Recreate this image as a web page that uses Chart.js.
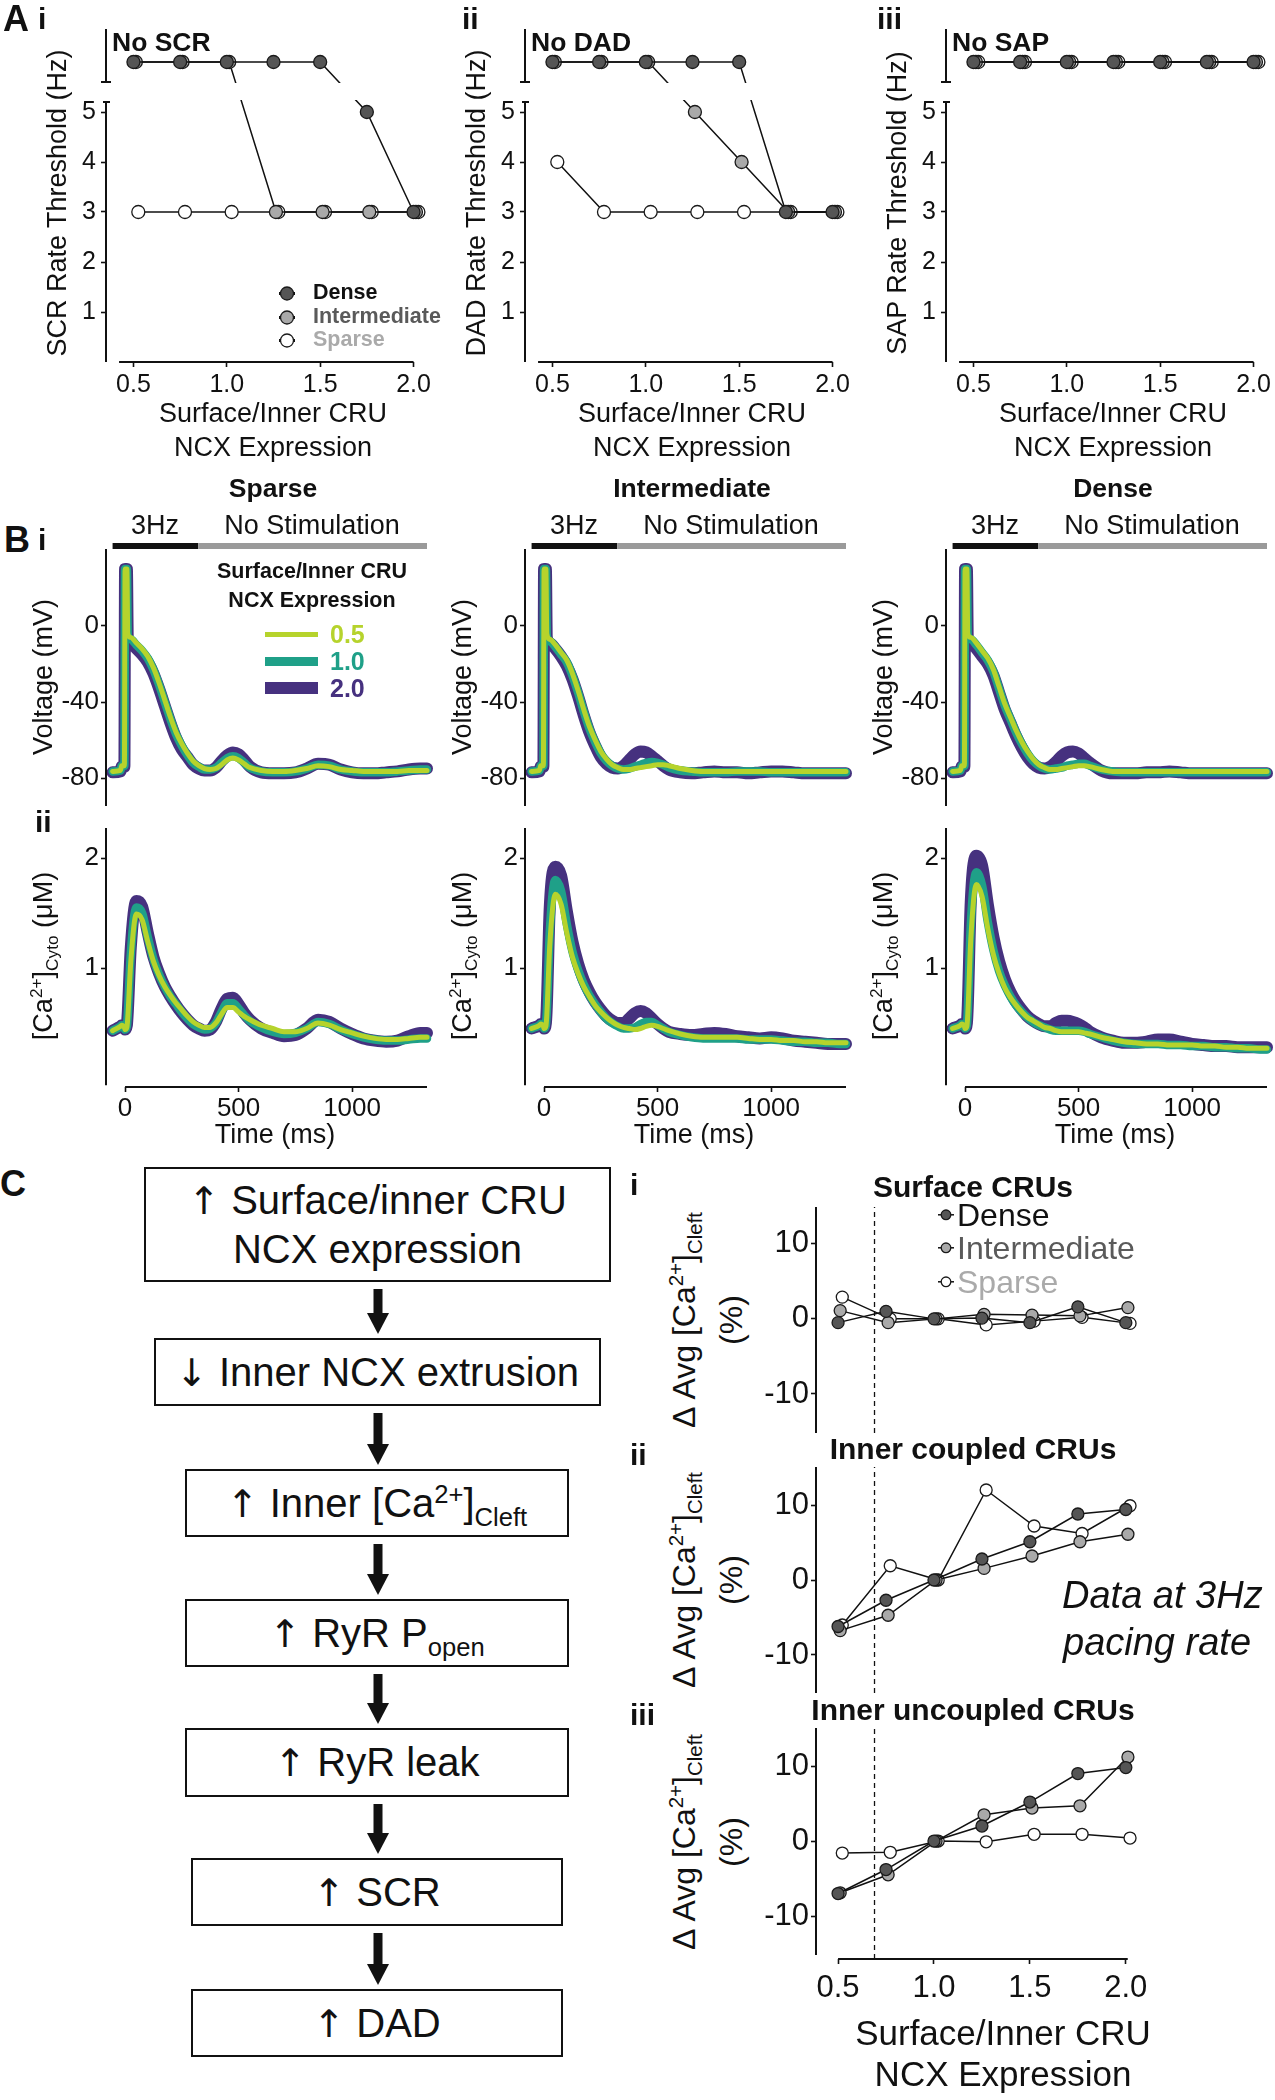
<!DOCTYPE html>
<html>
<head>
<meta charset="utf-8">
<title>Surface/Inner CRU NCX expression figure</title>
<script src="https://cdn.jsdelivr.net/npm/chart.js@4.4.1/dist/chart.umd.min.js"></script>
<style>
html, body { margin:0; padding:0; background:#fff; }
#page { position:relative; width:1275px; height:2100px; overflow:hidden; background:#fff;
  font-family:"Liberation Sans", Arial, Helvetica, sans-serif; color:#111; }
.t { position:absolute; white-space:nowrap; line-height:1; }
.t sup, .t sub, .box sup, .box sub { font-size:0.64em; line-height:0; }
canvas { position:absolute; }
.box { position:absolute; box-sizing:border-box; border:2.5px solid #111; display:flex; flex-direction:column;
  align-items:center; justify-content:center; font-size:40px; line-height:48px; white-space:nowrap; color:#111; text-align:center; }
.box > div { text-align:center; }
.ar { font-family:"DejaVu Sans", sans-serif; font-weight:normal; color:#111; font-size:0.95em; }
</style>
</head>
<body>
<div id="page"></div>
<script>
// ---------------- DATA ----------------
const ncxExpression = [0.5, 0.75, 1.0, 1.25, 1.5, 1.75, 2.0];
const ncxTicks = [0.5, 1.0, 1.5, 2.0];
const rateTicks = [1, 2, 3, 4, 5];
const NO_EVENT = 6;            // level used for "No SCR / No DAD / No SAP"

// A i  SCR rate threshold (Hz)
const scrDense        = [NO_EVENT, NO_EVENT, NO_EVENT, NO_EVENT, NO_EVENT, 5, 3];
const scrIntermediate = [NO_EVENT, NO_EVENT, NO_EVENT, 3, 3, 3, 3];
const scrSparse       = [3, 3, 3, 3, 3, 3, 3];
// A ii  DAD rate threshold (Hz)
const dadDense        = [NO_EVENT, NO_EVENT, NO_EVENT, NO_EVENT, NO_EVENT, 3, 3];
const dadIntermediate = [NO_EVENT, NO_EVENT, NO_EVENT, 5, 4, 3, 3];
const dadSparse       = [4, 3, 3, 3, 3, 3, 3];
// A iii  SAP rate threshold (Hz)
const sapDense        = [NO_EVENT, NO_EVENT, NO_EVENT, NO_EVENT, NO_EVENT, NO_EVENT, NO_EVENT];
const sapIntermediate = [NO_EVENT, NO_EVENT, NO_EVENT, NO_EVENT, NO_EVENT, NO_EVENT, NO_EVENT];
const sapSparse       = [NO_EVENT, NO_EVENT, NO_EVENT, NO_EVENT, NO_EVENT, NO_EVENT, NO_EVENT];

// B  time courses
const timeTicks = [0, 500, 1000];
const voltTicks = [-80, -40, 0];
const caTicks = [1, 2];
const stimStartMs = -55, stimEndMs = 322, recordEndMs = 1330;
const timeMs = [-55,-20,-15,-3,0,8,12,25,50,75,100,125,150,175,200,225,250,275,300,325,350,375,400,425,450,475,500,525,550,600,650,700,750,800,850,900,950,1000,1050,1100,1150,1200,1250,1300,1330];

const voltSparse05 = [-76.5,-76,-73.5,-73.5,30,30,-4,-6,-9,-12,-16,-22,-30,-39,-48,-56,-62,-67,-71,-73.5,-75,-75.5,-75,-73,-70.5,-69.5,-70.5,-72.5,-74.5,-76,-76.5,-76.5,-76,-75,-73.5,-74,-75.5,-76,-76.5,-76.5,-76.5,-76.5,-76,-76,-76];
const voltSparse10 = [-76.5,-76,-73.5,-73.5,30,30,-5,-7,-10,-13,-17,-23,-31,-40,-49,-57,-63,-68,-72,-74,-75.5,-75.5,-74.5,-72,-69.5,-68.5,-69.5,-72,-74.5,-76.5,-77,-77,-76.5,-75,-73,-73.5,-75.5,-76.5,-77,-77,-77,-76.5,-76,-75.5,-75.5];
const voltSparse20 = [-77,-76.5,-74,-74,30,30,-6,-9,-12,-15,-19,-25,-33,-42,-51,-59,-65,-69,-73,-75,-76,-76,-74.5,-71,-68,-66.5,-67.5,-70.5,-74,-77,-77.5,-77.5,-77,-75,-72.5,-73,-75.5,-77,-77.5,-77.5,-77,-76.5,-75.5,-75,-75];
const voltInter05 = [-76.5,-76,-73.5,-73.5,30,30,-4,-7,-10,-14,-18,-25,-34,-44,-53,-60,-66,-70,-73,-74.5,-75.5,-75.5,-75,-74.5,-74,-73.5,-73,-73,-73.5,-75,-76,-76.5,-76.5,-76.5,-76.5,-76.5,-76.5,-76.5,-76.5,-76.5,-76.5,-76.5,-76.5,-76.5,-76.5];
const voltInter10 = [-76.5,-76,-73.5,-73.5,30,30,-5,-8,-11,-15,-19,-26,-35,-45,-54,-61,-67,-71,-73.5,-75,-75.5,-75,-74,-73,-72,-71.5,-72,-73,-74.5,-76,-76.5,-77,-77,-77,-76.5,-76.5,-76.5,-77,-77,-77,-77,-77,-77,-77,-77];
const voltInter20 = [-77,-76.5,-74,-74,30,30,-6,-9,-12,-16,-21,-28,-37,-47,-56,-63,-69,-72.5,-74.5,-75,-73.5,-70.5,-67.5,-66,-66.5,-68.5,-71,-73.5,-75.5,-77,-77.5,-77,-76.5,-77,-77,-77.5,-77,-76.5,-76.5,-77,-77.5,-77.5,-77.5,-77.5,-77.5];
const voltDense05 = [-76.5,-76,-73.5,-73.5,30,30,-4,-6,-9,-13,-17,-23,-32,-41,-48,-55,-61,-66,-70,-73,-74.5,-75.5,-75.5,-75,-74.5,-74,-73.5,-73.5,-74,-75.5,-76.5,-76.5,-76.5,-76.5,-76.5,-76.5,-76.5,-76.5,-76.5,-76.5,-76.5,-76.5,-76.5,-76.5,-76.5];
const voltDense10 = [-76.5,-76,-73.5,-73.5,30,30,-5,-7,-10,-14,-18,-24,-33,-42,-49,-56,-62,-67,-71,-73.5,-75,-75.5,-75,-74.5,-73.5,-73,-72.5,-72.5,-73.5,-75.5,-76.5,-77,-77,-77,-77,-77,-77,-77,-77,-77,-77,-77,-77,-77,-77];
const voltDense20 = [-77,-76.5,-74,-74,30,30,-6,-9,-12,-16,-20,-26,-35,-44,-51,-58,-64,-69,-72.5,-74.5,-75,-74,-71.5,-68.5,-66.5,-66,-67,-69.5,-72,-76,-77.5,-77.5,-77.5,-77,-77,-76.5,-77,-77.5,-77.5,-77.5,-77.5,-77.5,-77.5,-77.5,-77.5];

const caSparse05 = [0.43,0.47,0.48,0.46,0.44,0.46,0.55,1.05,1.49,1.44,1.24,1.06,0.93,0.83,0.75,0.68,0.62,0.56,0.51,0.48,0.46,0.46,0.5,0.58,0.64,0.64,0.6,0.56,0.53,0.48,0.45,0.42,0.42,0.45,0.5,0.48,0.44,0.41,0.38,0.36,0.35,0.35,0.36,0.37,0.37];
const caSparse10 = [0.43,0.47,0.48,0.46,0.44,0.47,0.58,1.12,1.55,1.5,1.28,1.08,0.94,0.83,0.74,0.67,0.6,0.54,0.49,0.46,0.44,0.45,0.5,0.6,0.68,0.68,0.63,0.57,0.52,0.46,0.42,0.4,0.41,0.45,0.51,0.49,0.44,0.4,0.37,0.35,0.34,0.34,0.35,0.36,0.36];
const caSparse20 = [0.43,0.47,0.48,0.46,0.44,0.48,0.6,1.18,1.61,1.56,1.32,1.1,0.95,0.83,0.74,0.66,0.59,0.53,0.48,0.45,0.43,0.44,0.51,0.63,0.72,0.73,0.67,0.59,0.53,0.45,0.41,0.38,0.39,0.45,0.53,0.51,0.45,0.4,0.36,0.34,0.33,0.34,0.38,0.41,0.41];
const caInter05 = [0.45,0.48,0.49,0.47,0.45,0.47,0.57,1.2,1.67,1.58,1.32,1.1,0.95,0.83,0.74,0.66,0.6,0.55,0.51,0.48,0.46,0.45,0.44,0.45,0.47,0.48,0.47,0.45,0.43,0.4,0.38,0.37,0.37,0.37,0.37,0.36,0.35,0.35,0.34,0.34,0.33,0.33,0.32,0.32,0.32];
const caInter10 = [0.45,0.48,0.49,0.47,0.45,0.48,0.6,1.32,1.8,1.7,1.4,1.15,0.98,0.85,0.75,0.67,0.6,0.54,0.5,0.47,0.45,0.45,0.46,0.49,0.51,0.51,0.48,0.45,0.42,0.39,0.37,0.36,0.36,0.36,0.36,0.35,0.35,0.35,0.34,0.33,0.33,0.32,0.32,0.31,0.31];
const caInter20 = [0.45,0.48,0.49,0.47,0.45,0.5,0.65,1.55,1.92,1.84,1.52,1.24,1.04,0.89,0.78,0.69,0.62,0.56,0.52,0.5,0.5,0.54,0.59,0.61,0.59,0.54,0.49,0.45,0.42,0.4,0.39,0.4,0.41,0.4,0.38,0.37,0.36,0.37,0.36,0.34,0.33,0.32,0.31,0.31,0.31];
const caDense05 = [0.45,0.48,0.49,0.47,0.45,0.47,0.58,1.25,1.76,1.65,1.36,1.12,0.95,0.82,0.73,0.66,0.6,0.55,0.52,0.49,0.46,0.45,0.43,0.42,0.42,0.42,0.42,0.41,0.4,0.37,0.35,0.33,0.32,0.31,0.31,0.3,0.3,0.3,0.29,0.29,0.28,0.28,0.27,0.27,0.27];
const caDense10 = [0.45,0.48,0.49,0.47,0.45,0.48,0.61,1.38,1.87,1.75,1.42,1.16,0.97,0.84,0.74,0.66,0.6,0.55,0.51,0.48,0.46,0.44,0.43,0.43,0.43,0.43,0.43,0.42,0.4,0.37,0.34,0.32,0.31,0.31,0.31,0.3,0.3,0.29,0.29,0.28,0.28,0.27,0.27,0.26,0.26];
const caDense20 = [0.45,0.48,0.49,0.47,0.45,0.5,0.66,1.6,2.02,1.93,1.58,1.28,1.06,0.9,0.78,0.69,0.62,0.56,0.52,0.49,0.47,0.47,0.5,0.52,0.52,0.51,0.49,0.46,0.42,0.37,0.34,0.32,0.32,0.33,0.35,0.35,0.33,0.31,0.3,0.29,0.29,0.28,0.28,0.28,0.28];

// C  change in average cleft Ca (%), data at 3 Hz
const deltaTicks = [-10, 0, 10];
const uniformNcx = 0.69;       // dashed reference line
const surfDense        = [-0.5, 1.0, 0.0, 0.1, -0.5, 1.6, -0.5];
const surfIntermediate = [1.1, -0.5, 0.0, 0.6, 0.5, 0.4, 1.5];
const surfSparse       = [2.9, 0.0, 0.0, -0.8, -0.3, 0.2, -0.6];
const coupDense        = [-6.2, -2.7, 0.0, 2.8, 5.1, 8.8, 9.4];
const coupIntermediate = [-6.75, -4.7, 0.0, 1.55, 3.2, 5.1, 6.1];
const coupSparse       = [-6.0, 1.9, 0.0, 12.0, 7.2, 6.2, 9.9];
const uncDense         = [-7.0, -3.8, 0.0, 2.0, 5.2, 9.0, 9.8];
const uncIntermediate  = [-6.9, -4.5, 0.0, 3.5, 4.4, 4.7, 11.2];
const uncSparse        = [-1.6, -1.5, 0.0, -0.1, 0.9, 0.9, 0.4];

// ---------------- STYLE ----------------
const FONT = '"Liberation Sans", Arial, sans-serif';
const INK = '#111111';
const COL05 = '#b6d32c', COL10 = '#1fa088', COL20 = '#46317f';
const FILL_DENSE = '#555555', FILL_INTER = '#a9a9a9', FILL_SPARSE = '#ffffff';

const page = document.getElementById('page');

function txt(html, x, y, o = {}) {
  const d = document.createElement('div');
  d.className = 't';
  d.innerHTML = html;
  d.style.fontSize = (o.size || 26) + 'px';
  if (o.bold) d.style.fontWeight = 'bold';
  if (o.italic) d.style.fontStyle = 'italic';
  if (o.color) d.style.color = o.color;
  d.style.left = x + 'px';
  d.style.top = y + 'px';
  const ax = o.align === 'left' ? '0' : (o.align === 'right' ? '-100%' : '-50%');
  d.style.transform = 'translate(' + ax + ',-50%)' + (o.rot ? ' rotate(-90deg)' : '');
  page.appendChild(d);
  return d;
}

const axisDecor = {
  id: 'axisDecor',
  afterDatasetsDraw(chart, args, opts) {
    if (!opts || !opts.gap) return;
    const {ctx, chartArea, scales} = chart;
    const yA = scales.y.getPixelForValue(opts.gap[1]);
    const yB = scales.y.getPixelForValue(opts.gap[0]);
    ctx.save();
    ctx.fillStyle = '#ffffff';
    ctx.fillRect(chartArea.left + 2, yA, chartArea.right - chartArea.left + 30, yB - yA);
    ctx.restore();
  },
  afterDraw(chart, args, opts) {
    if (!opts) return;
    const {ctx, chartArea, scales} = chart;
    ctx.save();
    ctx.strokeStyle = INK;
    ctx.lineWidth = 2;
    const xl = chartArea.left;
    (opts.ySegs || []).forEach(([a, b]) => {
      ctx.beginPath();
      ctx.moveTo(xl, scales.y.getPixelForValue(a));
      ctx.lineTo(xl, scales.y.getPixelForValue(b));
      ctx.stroke();
    });
    if (opts.xSeg) {
      const yb = chartArea.bottom;
      ctx.beginPath();
      ctx.moveTo(scales.x.getPixelForValue(opts.xSeg[0]), yb);
      ctx.lineTo(scales.x.getPixelForValue(opts.xSeg[1]), yb);
      ctx.stroke();
    }
    (opts.caps || []).forEach(([v, l, r]) => {
      const y = scales.y.getPixelForValue(v);
      ctx.beginPath();
      ctx.moveTo(xl - l, y);
      ctx.lineTo(xl + r, y);
      ctx.stroke();
    });
    (opts.bars || []).forEach(b => {
      const x0 = scales.x.getPixelForValue(b.from), x1 = scales.x.getPixelForValue(b.to);
      ctx.fillStyle = b.color;
      ctx.fillRect(x0, chartArea.top + b.dy - b.h / 2, x1 - x0, b.h);
    });
    ctx.restore();
  }
};
Chart.register(axisDecor);

function makeChart(c) {
  const padTop = c.padTop ?? 32, padRight = c.padRight ?? 32, padBottom = c.padBottom ?? 30;
  const cLeft = c.left - c.yw, cTop = c.top - padTop;
  const W = Math.round(c.right + padRight - cLeft);
  const H = Math.round(c.bottom + (c.showX ? c.xh : padBottom) - cTop);
  const cv = document.createElement('canvas');
  cv.width = W; cv.height = H;
  Object.assign(cv.style, {left: cLeft + 'px', top: cTop + 'px', width: W + 'px', height: H + 'px'});
  page.appendChild(cv);
  const grid = {display: true, drawOnChartArea: false, drawTicks: true, tickLength: 5, tickColor: INK, tickWidth: 1.6};
  const xScale = {
    type: 'linear', min: c.xmin, max: c.xmax, display: !!c.showX,
    grid: grid, border: {display: false},
    afterBuildTicks: s => { s.ticks = c.xTicks.map(v => ({value: v})); },
    ticks: {autoSkip: false, maxRotation: 0, minRotation: 0, padding: c.xPad ?? 3, color: INK,
      font: {family: FONT, size: c.xFont || 25}, callback: c.xFmt || (v => String(v))}
  };
  if (c.showX) xScale.afterFit = s => { s.height = c.xh; };
  return new Chart(cv, {
    type: 'line',
    data: {datasets: c.datasets},
    options: {
      responsive: false, animation: false, devicePixelRatio: 1, events: [],
      layout: {padding: {left: 0, top: padTop, right: padRight, bottom: c.showX ? 0 : padBottom}},
      plugins: {legend: {display: false}, tooltip: {enabled: false}, axisDecor: c.decor},
      scales: {
        x: xScale,
        y: {
          type: 'linear', min: c.ymin, max: c.ymax,
          grid: grid, border: {display: false},
          afterFit: s => { s.width = c.yw; },
          afterBuildTicks: s => { s.ticks = c.yTicks.map(v => ({value: v})); },
          ticks: {autoSkip: false, padding: c.yPad ?? 4, color: INK,
            font: {family: FONT, size: c.yFont || 25}, callback: v => String(v)}
        }
      }
    }
  });
}

function markDs(ys, fill, dodge, r) {
  return {
    data: ncxExpression.map((x, i) => ({x: x + dodge, y: ys[i]})),
    showLine: true, borderColor: INK, borderWidth: 1.5, tension: 0, fill: false, clip: false,
    pointRadius: r, pointBackgroundColor: fill, pointBorderColor: '#1a1a1a', pointBorderWidth: 1.3
  };
}
function traceDs(ys, color, width) {
  return {
    data: timeMs.map((t, i) => ({x: t, y: ys[i]})),
    borderColor: color, backgroundColor: color, borderWidth: width, pointRadius: 0,
    cubicInterpolationMode: 'monotone', borderJoinStyle: 'round', borderCapStyle: 'round',
    fill: false, clip: false
  };
}
const fmt1 = v => v.toFixed(1);

// ---------------- PANEL A ----------------
const A_X0 = [106, 525, 946];
const aSets = [
  {d: scrDense, m: scrIntermediate, s: scrSparse, no: 'No SCR', yt: 'SCR Rate Threshold (Hz)'},
  {d: dadDense, m: dadIntermediate, s: dadSparse, no: 'No DAD', yt: 'DAD Rate Threshold (Hz)'},
  {d: sapDense, m: sapIntermediate, s: sapSparse, no: 'No SAP', yt: 'SAP Rate Threshold (Hz)'}
];
aSets.forEach((p, k) => {
  const X0 = A_X0[k];
  makeChart({
    left: X0, right: X0 + 315, top: 25, bottom: 362, yw: 60, xh: 45, showX: true,
    xmin: 0.353, xmax: 2.04, ymin: 0, ymax: 6.74,
    xTicks: ncxTicks, yTicks: rateTicks, xFmt: fmt1, xPad: 3, yPad: 5, xFont: 25, yFont: 25,
    datasets: [markDs(p.d, FILL_DENSE, 0, 6.5), markDs(p.m, FILL_INTER, 0.013, 6.5), markDs(p.s, FILL_SPARSE, 0.026, 6.5)],
    decor: {ySegs: [[0, 5.2], [5.6, 6.66]], caps: [[5.6, 5, 5], [5.2, 3, 4]], gap: [5.24, 5.58], xSeg: [0.423, 2.0]}
  });
  txt(p.no, X0 + 6, 42, {size: 26.5, bold: true, align: 'left'});
  txt(p.yt, X0 - 49, 203, {size: 27, rot: true});
  txt('Surface/Inner CRU', X0 + 167, 413, {size: 27});
  txt('NCX Expression', X0 + 167, 447, {size: 27});
});
txt('A', 3, 19, {size: 36, bold: true, align: 'left'});
txt('i', 38, 19, {size: 30, bold: true, align: 'left'});
txt('ii', 462, 19, {size: 30, bold: true, align: 'left'});
txt('iii', 877, 19, {size: 30, bold: true, align: 'left'});

// A i legend
function legendMarker(cx, cy, fill, r, lineHalf, lw) {
  const s = document.createElementNS('http://www.w3.org/2000/svg', 'svg');
  const w = 2 * Math.max(r + 2, lineHalf + 1);
  s.setAttribute('width', w); s.setAttribute('height', 2 * r + 4);
  s.style.position = 'absolute'; s.style.left = (cx - w / 2) + 'px'; s.style.top = (cy - r - 2) + 'px';
  s.innerHTML = '<line x1="' + (w / 2 - lineHalf) + '" y1="' + (r + 2) + '" x2="' + (w / 2 + lineHalf) + '" y2="' + (r + 2) +
    '" stroke="#111" stroke-width="' + lw + '"/><circle cx="' + (w / 2) + '" cy="' + (r + 2) + '" r="' + r +
    '" fill="' + fill + '" stroke="#1a1a1a" stroke-width="1.3"/>';
  page.appendChild(s);
}
[['Dense', FILL_DENSE, '#111', 293], ['Intermediate', FILL_INTER, '#5a5a5a', 317], ['Sparse', FILL_SPARSE, '#aaaaaa', 340]].forEach(([name, fill, col, y]) => {
  legendMarker(287, y, fill, 6.5, 8, 3);
  txt(name, 313, y, {size: 21.5, bold: true, color: col, align: 'left'});
});

// ---------------- PANEL B ----------------
const B_X0 = [106, 525, 946];
const bSets = [
  {title: 'Sparse', v: [voltSparse05, voltSparse10, voltSparse20], c: [caSparse05, caSparse10, caSparse20]},
  {title: 'Intermediate', v: [voltInter05, voltInter10, voltInter20], c: [caInter05, caInter10, caInter20]},
  {title: 'Dense', v: [voltDense05, voltDense10, voltDense20], c: [caDense05, caDense10, caDense20]}
];
bSets.forEach((p, k) => {
  const X0 = B_X0[k];
  makeChart({
    left: X0, right: X0 + 321, top: 549, bottom: 806, yw: 60, showX: false,
    xmin: -84, xmax: recordEndMs, ymin: -94.7, ymax: 40.5,
    xTicks: timeTicks, yTicks: voltTicks, yPad: 2, yFont: 26,
    datasets: [traceDs(p.v[0], COL05, 5), traceDs(p.v[1], COL10, 8.5), traceDs(p.v[2], COL20, 12)],
    decor: {ySegs: [[-94.7, 40.5]],
      bars: [{from: stimStartMs, to: stimEndMs, color: '#111', dy: -3, h: 6},
             {from: stimEndMs, to: recordEndMs, color: '#9a9a9a', dy: -3, h: 6}]}
  });
  makeChart({
    left: X0, right: X0 + 321, top: 828, bottom: 1087, yw: 60, xh: 40, showX: true,
    xmin: -84, xmax: recordEndMs, ymin: -0.082, ymax: 2.273,
    xTicks: timeTicks, yTicks: caTicks, xPad: 1, yPad: 2, xFont: 26, yFont: 26,
    datasets: [traceDs(p.c[0], COL05, 5), traceDs(p.c[1], COL10, 8.5), traceDs(p.c[2], COL20, 12)],
    decor: {ySegs: [[-0.065, 2.273]], xSeg: [0, recordEndMs]}
  });
  txt(p.title, X0 + 167, 488, {size: 26.5, bold: true});
  txt('3Hz', X0 + 49, 525, {size: 27});
  txt('No Stimulation', X0 + 206, 525, {size: 27});
  txt('Voltage (mV)', X0 - 63, 677, {size: 27, rot: true});
  txt('[Ca<sup>2+</sup>]<sub>Cyto</sub> (μM)', X0 - 63, 956, {size: 27, rot: true});
  txt('Time (ms)', X0 + 169, 1134, {size: 27});
});
txt('B', 4, 540, {size: 36, bold: true, align: 'left'});
txt('i', 38, 540, {size: 30, bold: true, align: 'left'});
txt('ii', 35, 822, {size: 30, bold: true, align: 'left'});
// B legend (in Sparse panel)
txt('Surface/Inner CRU', 312, 572, {size: 21.5, bold: true});
txt('NCX Expression', 312, 601, {size: 21.5, bold: true});
[['0.5', COL05, 5, 634], ['1.0', COL10, 9, 661], ['2.0', COL20, 12.5, 688]].forEach(([lab, col, th, y]) => {
  const d = document.createElement('div');
  Object.assign(d.style, {position: 'absolute', left: '265px', width: '53px', top: (y - th / 2) + 'px', height: th + 'px', background: col});
  page.appendChild(d);
  txt(lab, 330, y, {size: 25, bold: true, color: col, align: 'left'});
});

// ---------------- PANEL C (right plots) ----------------
const C_X0 = 816;
const cSets = [
  {d: surfDense, m: surfIntermediate, s: surfSparse, top: 1207, bottom: 1433, ymin: -15.2, ymax: 14.9, showX: false, title: 'Surface CRUs', ty: 1187, num: 'i', ny: 1185},
  {d: coupDense, m: coupIntermediate, s: coupSparse, top: 1467, bottom: 1693, ymin: -15.07, ymax: 15.07, showX: false, title: 'Inner coupled CRUs', ty: 1449, num: 'ii', ny: 1455},
  {d: uncDense, m: uncIntermediate, s: uncSparse, top: 1728, bottom: 1959, ymin: -15.73, ymax: 15.07, showX: true, title: 'Inner uncoupled CRUs', ty: 1710, num: 'iii', ny: 1715}
];
cSets.forEach(p => {
  const dash = {data: [{x: uniformNcx, y: p.ymin}, {x: uniformNcx, y: p.ymax}], borderColor: INK, borderWidth: 1.3,
    borderDash: [5, 4], pointRadius: 0, fill: false, clip: false};
  makeChart({
    left: C_X0, right: 1145, top: p.top, bottom: p.bottom, yw: 60, xh: 50, showX: p.showX,
    xmin: 0.385, xmax: 2.1, ymin: p.ymin, ymax: p.ymax,
    xTicks: ncxTicks, yTicks: deltaTicks, xFmt: fmt1, xPad: 6, yPad: 2, xFont: 31, yFont: 31, padRight: 40,
    datasets: [markDs(p.d, FILL_DENSE, 0, 6), markDs(p.m, FILL_INTER, 0.011, 6), markDs(p.s, FILL_SPARSE, 0.022, 6), dash],
    decor: p.showX ? {ySegs: [[-15.2, p.ymax]], xSeg: [0.5, 2.01]} : {ySegs: [[p.ymin, p.ymax]]}
  });
  txt(p.title, 973, p.ty, {size: 30, bold: true});
  txt('Δ Avg [Ca<sup>2+</sup>]<sub>Cleft</sub>', 684, (p.top + p.bottom) / 2 + (p.showX ? -2 : 0), {size: 32, rot: true});
  txt('(%)', 731, (p.top + p.bottom) / 2 + (p.showX ? -2 : 0), {size: 32, rot: true});
  txt(p.num, 630, p.ny, {size: 30, bold: true, align: 'left'});
});
[['Dense', FILL_DENSE, '#111', 1215], ['Intermediate', FILL_INTER, '#5a5a5a', 1248], ['Sparse', FILL_SPARSE, '#aaaaaa', 1282]].forEach(([name, fill, col, y]) => {
  legendMarker(946, y, fill, 4.8, 8, 1.5);
  txt(name, 957, y, {size: 32, color: col, align: 'left'});
});
txt('Data at 3Hz', 1062, 1595, {size: 38, italic: true, align: 'left'});
txt('pacing rate', 1063, 1642, {size: 38, italic: true, align: 'left'});
txt('Surface/Inner CRU', 1003, 2032, {size: 35});
txt('NCX Expression', 1003, 2073, {size: 35});

// ---------------- PANEL C (flow chart) ----------------
txt('C', 0, 1184, {size: 36, bold: true, align: 'left'});
const UP = '<span class="ar">↑</span>', DOWN = '<span class="ar">↓</span>';
const boxes = [
  {l: 144, r: 611, t: 1167, b: 1282, html: UP + ' Surface/inner CRU<br>NCX expression'},
  {l: 154, r: 601, t: 1338, b: 1406, html: DOWN + ' Inner NCX extrusion'},
  {l: 185, r: 569, t: 1469, b: 1537, html: UP + ' Inner [Ca<sup>2+</sup>]<sub>Cleft</sub>'},
  {l: 185, r: 569, t: 1599, b: 1667, html: UP + ' RyR P<sub>open</sub>'},
  {l: 185, r: 569, t: 1728, b: 1797, html: UP + ' RyR leak'},
  {l: 191, r: 563, t: 1858, b: 1926, html: UP + ' SCR'},
  {l: 191, r: 563, t: 1989, b: 2057, html: UP + ' DAD'}
];
boxes.forEach((bx, i) => {
  const d = document.createElement('div');
  d.className = 'box';
  Object.assign(d.style, {left: bx.l + 'px', top: bx.t + 'px', width: (bx.r - bx.l) + 'px', height: (bx.b - bx.t) + 'px'});
  d.innerHTML = '<div>' + bx.html + '</div>';
  page.appendChild(d);
  if (i < boxes.length - 1) {
    const top = bx.b + 7, tip = boxes[i + 1].t - 4, headH = 21, cx = 377.5;
    const s = document.createElementNS('http://www.w3.org/2000/svg', 'svg');
    s.setAttribute('width', 30); s.setAttribute('height', tip - top);
    s.style.position = 'absolute'; s.style.left = (cx - 15) + 'px'; s.style.top = top + 'px';
    const hb = tip - top - headH;
    s.innerHTML = '<rect x="10.5" y="0" width="9" height="' + (hb + 1) + '" fill="#111"/>' +
      '<polygon points="4,' + hb + ' 26,' + hb + ' 15,' + (tip - top) + '" fill="#111"/>';
    page.appendChild(s);
  }
});
</script>
</body>
</html>
